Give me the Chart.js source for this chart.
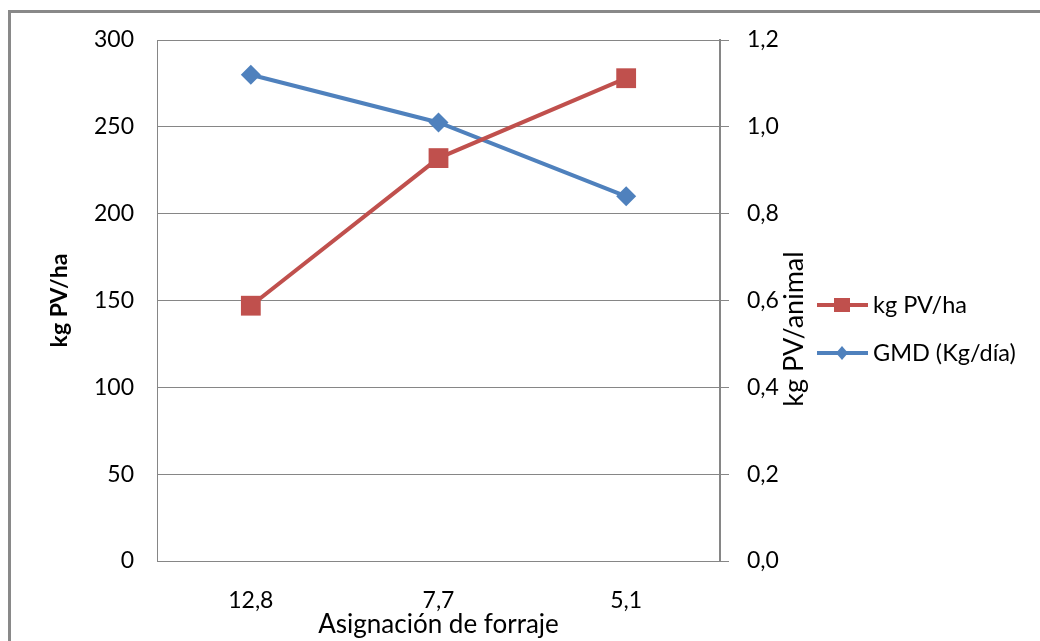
<!DOCTYPE html>
<html>
<head>
<meta charset="utf-8">
<script src="https://cdn.jsdelivr.net/npm/chart.js@4"></script>
<style>
  html, body { margin: 0; padding: 0; background: #ffffff; }
  #wrap { width: 1040px; height: 641px; position: relative; }
</style>
</head>
<body>
<div id="wrap"><canvas id="c" width="1040" height="641"></canvas></div>
<script>
const categories = ['12,8', '7,7', '5,1'];
const kgPvHa = [147, 232, 278];
const gmdKgDia = [1.12, 1.01, 0.84];
const seriesNames = ['kg PV/ha', 'GMD (Kg/día)'];
const xTitle = 'Asignación de forraje';
const leftTitle = 'kg PV/ha';
const rightTitle = 'kg PV/animal';

const FONT = 'Lato, "Open Sans", sans-serif';
const GRID = '#868686';
const RED = '#C0504D';
const BLUE = '#4F81BD';

const frame = {
  id: 'frame',
  beforeDraw(chart) {
    const ctx = chart.ctx;
    ctx.save();
    ctx.fillStyle = '#ffffff';
    ctx.fillRect(0, 0, chart.width, chart.height);
    ctx.strokeStyle = '#898989';
    ctx.lineWidth = 3;
    ctx.beginPath();
    ctx.moveTo(9.5, chart.height);
    ctx.lineTo(9.5, 11.5);
    ctx.lineTo(chart.width, 11.5);
    ctx.stroke();
    ctx.restore();
  },
  afterDraw(chart) {
    const ctx = chart.ctx;
    ctx.save();
    // right axis title (reads bottom to top)
    ctx.translate(794, 329);
    ctx.rotate(-Math.PI / 2);
    ctx.fillStyle = '#000000';
    ctx.font = '27px ' + FONT;
    ctx.textAlign = 'center';
    ctx.textBaseline = 'middle';
    ctx.fillText(rightTitle, 0, 0);
    ctx.restore();

    // legend
    const rows = [305, 353];
    chart.data.datasets.forEach((ds, i) => {
      const y = rows[i];
      ctx.save();
      ctx.strokeStyle = ds.borderColor;
      ctx.lineWidth = 4;
      ctx.beginPath();
      ctx.moveTo(817, y);
      ctx.lineTo(868, y);
      ctx.stroke();
      ctx.fillStyle = ds.backgroundColor;
      if (ds.pointStyle === 'rect') {
        ctx.fillRect(842 - 8, y - 7, 16, 14);
      } else {
        ctx.beginPath();
        ctx.moveTo(842, y - 7);
        ctx.lineTo(848, y);
        ctx.lineTo(842, y + 7);
        ctx.lineTo(836, y);
        ctx.closePath();
        ctx.fill();
      }
      ctx.fillStyle = '#000000';
      ctx.font = '23.5px ' + FONT;
      ctx.textAlign = 'left';
      ctx.textBaseline = 'middle';
      ctx.fillText(ds.label, 873, y);
      ctx.restore();
    });
  }
};

new Chart(document.getElementById('c'), {
  type: 'line',
  data: {
    labels: categories,
    datasets: [
      {
        label: seriesNames[0],
        data: kgPvHa,
        yAxisID: 'y',
        borderColor: RED,
        backgroundColor: RED,
        borderWidth: 4,
        pointStyle: 'rect',
        pointRadius: 14,
        pointBorderWidth: 0,
        pointBackgroundColor: RED,
        pointBorderColor: RED,
        tension: 0
      },
      {
        label: seriesNames[1],
        data: gmdKgDia,
        yAxisID: 'y1',
        borderColor: BLUE,
        backgroundColor: BLUE,
        borderWidth: 4,
        pointStyle: 'rectRot',
        pointRadius: 10,
        pointBorderWidth: 0,
        pointBackgroundColor: BLUE,
        pointBorderColor: BLUE,
        tension: 0
      }
    ]
  },
  options: {
    responsive: false,
    animation: false,
    events: [],
    layout: { padding: { left: 0, right: 0, top: 40, bottom: 0 } },
    plugins: {
      legend: { display: false },
      tooltip: { enabled: false }
    },
    scales: {
      x: {
        type: 'category',
        offset: true,
        grid: { display: false, drawTicks: false },
        border: { display: true, color: GRID, width: 1 },
        ticks: { color: '#000', font: { family: FONT, size: 23 }, padding: 26 },
        title: {
          display: true,
          text: xTitle,
          color: '#000',
          font: { family: FONT, size: 26 },
          padding: { top: 0, bottom: 1 }
        },
        afterFit(scale) { scale.height = 80; }
      },
      y: {
        position: 'left',
        min: 0,
        max: 300,
        ticks: { stepSize: 50, color: '#000', font: { family: FONT, size: 23 }, padding: 23 },
        grid: { color: GRID, lineWidth: 1, drawTicks: false },
        border: { display: true, color: GRID, width: 1 },
        title: {
          display: true,
          text: leftTitle,
          color: '#000',
          font: { family: FONT, size: 23, weight: 'bold' },
          padding: { top: 46, bottom: 0 }
        },
        afterFit(scale) { scale.width = 157; }
      },
      y1: {
        position: 'right',
        min: 0,
        max: 1.2,
        ticks: {
          stepSize: 0.2,
          color: '#000',
          font: { family: FONT, size: 23 },
          padding: 18,
          callback: (v) => Number(v).toFixed(1).replace('.', ',')
        },
        grid: { drawOnChartArea: false, color: GRID, tickLength: 9, lineWidth: 1 },
        border: { display: true, color: GRID, width: 2 },
        afterFit(scale) { scale.width = 320; }
      }
    }
  },
  plugins: [frame]
});
</script>
</body>
</html>
